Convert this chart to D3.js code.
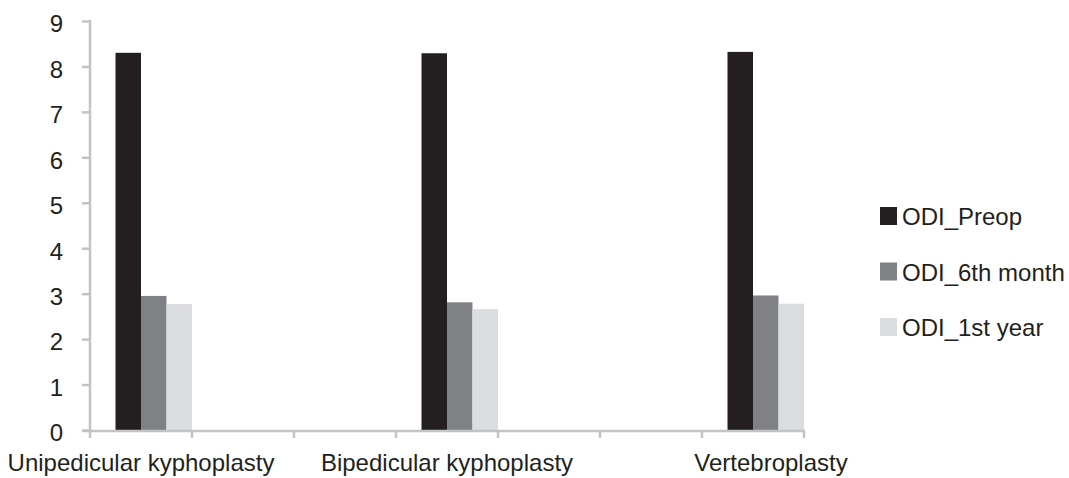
<!DOCTYPE html>
<html>
<head>
<meta charset="utf-8">
<script src="https://cdn.jsdelivr.net/npm/d3@7/dist/d3.min.js"></script>
<style>
  html, body { margin: 0; padding: 0; background: #ffffff; }
  svg { display: block; }
  text { font-family: "Liberation Sans", Arial, sans-serif; fill: #231f20; }
</style>
</head>
<body>
<svg id="chart" width="1069" height="478"></svg>
<script>
// ---- data ----
const categories = ["Unipedicular kyphoplasty", "", "", "Bipedicular kyphoplasty", "", "", "Vertebroplasty"];
const seriesNames = ["ODI_Preop", "ODI_6th month", "ODI_1st year"];
const odiPreop   = [8.30, null, null, 8.29, null, null, 8.32];
const odi6thMonth = [2.95, null, null, 2.81, null, null, 2.96];
const odi1stYear = [2.77, null, null, 2.66, null, null, 2.78];
const yTicks = [0, 1, 2, 3, 4, 5, 6, 7, 8, 9];

const seriesValues = [odiPreop, odi6thMonth, odi1stYear];
const colors = ["#231f20", "#808184", "#dcdddf"];

const svg = d3.select("#chart");
const plotLeft = 90, plotRight = 804, plotTop = 21, plotBottom = 430;
const fontSize = 24;

const x = d3.scaleBand().domain(d3.range(categories.length)).range([plotLeft, plotRight]).padding(0);
const bw = x.bandwidth();
const x1 = d3.scaleBand().domain(seriesNames).range([bw * 0.25, bw]).padding(0);
const y = d3.scaleLinear().domain([0, 9]).range([plotBottom, plotTop]);

const axisColor = "#c3c4c6";

// bars
seriesNames.forEach((s, si) => {
  svg.append("g").selectAll("rect")
    .data(categories.map((c, i) => ({ i, v: seriesValues[si][i] })).filter(d => d.v != null))
    .join("rect")
    .attr("x", d => x(d.i) + x1(s))
    .attr("width", x1.bandwidth())
    .attr("y", d => y(d.v))
    .attr("height", d => y(0) - y(d.v))
    .attr("fill", colors[si]);
});

// y axis
const yAxis = svg.append("g").attr("transform", `translate(${plotLeft},0)`)
  .call(d3.axisLeft(y).tickValues(yTicks).tickSize(8).tickPadding(19).tickFormat(d3.format("d")));
yAxis.select(".domain").remove();
yAxis.selectAll(".tick line").attr("stroke", axisColor).attr("stroke-width", 2.5);
yAxis.selectAll(".tick text").attr("font-size", fontSize).attr("fill", "#231f20")
  .attr("dy", "0.45em")
  .style("font-family", '"Liberation Sans", Arial, sans-serif');
svg.append("line").attr("x1", plotLeft).attr("x2", plotLeft).attr("y1", y(9) - 1).attr("y2", plotBottom + 1)
  .attr("stroke", axisColor).attr("stroke-width", 2.5);

// x axis
svg.append("line").attr("x1", plotLeft - 8).attr("x2", plotRight + 1).attr("y1", plotBottom + 1).attr("y2", plotBottom + 1)
  .attr("stroke", axisColor).attr("stroke-width", 2.5);
const boundaries = categories.map((c, i) => x(i)).concat([x(categories.length - 1) + bw]);
svg.append("g").selectAll("line").data(boundaries).join("line")
  .attr("x1", d => d).attr("x2", d => d)
  .attr("y1", plotBottom + 1).attr("y2", plotBottom + 8)
  .attr("stroke", axisColor).attr("stroke-width", 2.5);

// category labels
const labelShift = { 6: 18 };
svg.append("g").selectAll("text")
  .data(categories.map((c, i) => ({ c, i })).filter(d => d.c !== ""))
  .join("text")
  .attr("x", d => x(d.i) + bw / 2 + (labelShift[d.i] || 0))
  .attr("y", 471)
  .attr("text-anchor", "middle")
  .attr("font-size", fontSize)
  .text(d => d.c);

// legend
const legend = svg.append("g");
seriesNames.forEach((s, si) => {
  const base = 225 + si * 55.5;
  legend.append("rect").attr("x", 880).attr("y", base - 18).attr("width", 17).attr("height", 18).attr("fill", colors[si]);
  legend.append("text").attr("x", 902).attr("y", base).attr("font-size", fontSize).text(s);
});
</script>
</body>
</html>
